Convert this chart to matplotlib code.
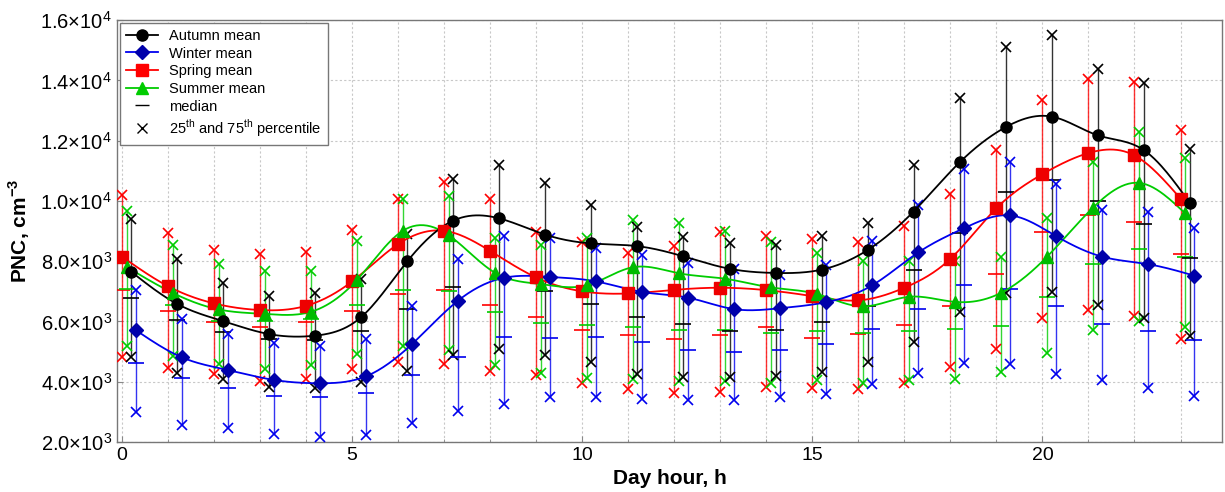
import numpy as np
import matplotlib
matplotlib.use("Agg")
import matplotlib.pyplot as plt
from matplotlib.lines import Line2D
from matplotlib.ticker import FuncFormatter, MultipleLocator

plt.rcParams["font.family"] = ["Liberation Sans", "DejaVu Sans"]
plt.rcParams["mathtext.fontset"] = "custom"
plt.rcParams["mathtext.rm"] = "Liberation Sans"
plt.rcParams["mathtext.bf"] = "Liberation Sans:bold"

# hourly particle number concentration by season
hours = np.arange(24)

autumn_mean = [7650, 6580, 6010, 5580, 5530, 6150, 8000, 9350, 9420, 8880, 8590, 8500,
               8160, 7750, 7610, 7720, 8370, 9650, 11280, 12450, 12800, 12180, 11690, 9940]
autumn_median = [6780, 6050, 5650, 5420, 5390, 5700, 6420, 7140, 7500, 7010, 6590, 6140,
                 5920, 5700, 5730, 5980, 6520, 7710, 8930, 10310, 10710, 9990, 9250, 8100]
autumn_p25 = [4820, 4290, 4100, 3820, 3790, 3990, 4370, 4900, 5090, 4900, 4670, 4250,
              4170, 4170, 4190, 4320, 4660, 5320, 6320, 6950, 6970, 6540, 6120, 5510]
autumn_p75 = [9410, 8080, 7290, 6840, 6930, 7420, 8920, 10730, 11200, 10600, 9850, 9140,
              8820, 8600, 8540, 8830, 9260, 11180, 13410, 15110, 15500, 14380, 13920, 11740]

winter_mean = [5710, 4810, 4390, 4060, 3950, 4180, 5250, 6690, 7450, 7480, 7330, 6980,
               6790, 6410, 6440, 6640, 7200, 8290, 9100, 9520, 8830, 8150, 7900, 7520]
winter_median = [4620, 4120, 3800, 3540, 3510, 3630, 4230, 4820, 5480, 5450, 5500, 5310,
                 5060, 4980, 5060, 5250, 5760, 6400, 7220, 7070, 6500, 5930, 5680, 5380]
winter_p25 = [2990, 2550, 2460, 2250, 2160, 2240, 2630, 3020, 3270, 3490, 3490, 3430,
              3400, 3380, 3490, 3580, 3920, 4280, 4610, 4600, 4270, 4070, 3800, 3520]
winter_p75 = [7030, 6090, 5590, 5290, 5200, 5420, 6530, 8080, 8850, 8760, 8440, 8190,
              7950, 7750, 7550, 7890, 8660, 9870, 11050, 11290, 10560, 9710, 9620, 9090]

spring_mean = [8150, 7170, 6600, 6380, 6520, 7330, 8570, 9010, 8340, 7460, 7000, 6930,
               7050, 7120, 7040, 6840, 6700, 7120, 8080, 9760, 10890, 11590, 11510, 10080]
spring_median = [7050, 6360, 5980, 5810, 5980, 6360, 6920, 7060, 6560, 6140, 5720, 5540,
                 5420, 5560, 5810, 5450, 5600, 5890, 6520, 7570, 8970, 9550, 9300, 8250]
spring_p25 = [4820, 4470, 4250, 4020, 4080, 4410, 4670, 4580, 4350, 4210, 3950, 3770,
              3630, 3650, 3820, 3790, 3750, 3950, 4490, 5100, 6120, 6370, 6170, 5430]
spring_p75 = [10200, 8940, 8380, 8230, 8300, 9040, 10070, 10640, 10070, 8960, 8650, 8270,
              8520, 8960, 8840, 8740, 8640, 9170, 10240, 11680, 13360, 14060, 13950, 12370]

summer_mean = [7810, 6950, 6400, 6250, 6320, 7370, 9010, 8860, 7620, 7240, 7200, 7800,
               7600, 7420, 7130, 6910, 6500, 6820, 6650, 6950, 8150, 9780, 10600, 9590]
summer_median = [7080, 6550, 6000, 6000, 6090, 6550, 7060, 7000, 6310, 5960, 5870, 5810,
                 5730, 5730, 5620, 5670, 5610, 5690, 5740, 5850, 6800, 7910, 8420, 8130]
summer_p25 = [5180, 4850, 4600, 4430, 4560, 4930, 5200, 5060, 4540, 4290, 4130, 4100,
              4010, 4030, 3950, 4050, 3970, 4060, 4080, 4340, 4960, 5730, 6010, 5820]
summer_p75 = [9680, 8550, 7900, 7660, 7670, 8670, 10050, 10160, 8760, 8540, 8760, 9370,
              9270, 9010, 8650, 8280, 8010, 8010, 8000, 8150, 9440, 11290, 12280, 11430]


def natural_spline(x, y, num=600):
    """Natural cubic spline through (x, y), evaluated on a fine grid."""
    x = np.asarray(x, float)
    y = np.asarray(y, float)
    n = len(x)
    h = np.diff(x)
    A = np.zeros((n, n))
    rhs = np.zeros(n)
    A[0, 0] = A[-1, -1] = 1.0
    for i in range(1, n - 1):
        A[i, i - 1] = h[i - 1]
        A[i, i] = 2 * (h[i - 1] + h[i])
        A[i, i + 1] = h[i]
        rhs[i] = 3 * ((y[i + 1] - y[i]) / h[i] - (y[i] - y[i - 1]) / h[i - 1])
    c = np.linalg.solve(A, rhs)
    b = (y[1:] - y[:-1]) / h - h * (2 * c[:-1] + c[1:]) / 3
    d = (c[1:] - c[:-1]) / (3 * h)
    xs = np.linspace(x[0], x[-1], num)
    idx = np.clip(np.searchsorted(x, xs) - 1, 0, n - 2)
    t = xs - x[idx]
    ys = y[idx] + b[idx] * t + c[idx] * t ** 2 + d[idx] * t ** 3
    return xs, ys


# (name, mean, median, p25, p75, colour, marker, marker colour, x shift)
seasons = [
    ("Spring", spring_mean, spring_median, spring_p25, spring_p75, "#ff0000", "s", "#ee0000", 0.0),
    ("Summer", summer_mean, summer_median, summer_p25, summer_p75, "#00cc00", "^", "#00bb00", 0.1),
    ("Autumn", autumn_mean, autumn_median, autumn_p25, autumn_p75, "#000000", "o", "#000000", 0.2),
    ("Winter", winter_mean, winter_median, winter_p25, winter_p75, "#0000ee", "D", "#0000aa", 0.3),
]

fig = plt.figure(figsize=(12.25, 4.92), dpi=100)
ax = fig.add_axes([0.0955, 0.1016, 0.902, 0.8574])

for name, mean, med, p25, p75, col, mk, mcol, dx in seasons:
    x = hours + dx
    ax.vlines(x, p25, p75, colors=col, linewidth=1.0, alpha=0.8, zorder=2)
    ax.plot(x, p25, "x", color=col, markersize=7, markeredgewidth=1.2, zorder=3)
    ax.plot(x, p75, "x", color=col, markersize=7, markeredgewidth=1.2, zorder=3)
    ax.plot(x, med, "_", color=col, markersize=12, markeredgewidth=1.2, zorder=3)

for name, mean, med, p25, p75, col, mk, mcol, dx in seasons:
    x = hours + dx
    xs, ys = natural_spline(x, mean)
    ax.plot(xs, ys, color=col, linewidth=1.3, zorder=4)
    ms = 8 if mk != "D" else 7
    ax.plot(x, mean, mk, color=mcol, markersize=ms, zorder=5)

ax.set_xlim(-0.11, 23.9)
ax.set_ylim(2000, 16000)
ax.xaxis.set_major_locator(MultipleLocator(5))
ax.xaxis.set_minor_locator(MultipleLocator(1))
ax.yaxis.set_major_locator(MultipleLocator(2000))


def sci_label(v, pos):
    if v <= 0:
        return ""
    exp = int(np.floor(np.log10(v)))
    mant = v / 10 ** exp
    return r"$\mathregular{%.1f{\times}10^{%d}}$" % (mant, exp)


ax.yaxis.set_major_formatter(FuncFormatter(sci_label))
ax.tick_params(axis="both", which="major", labelsize=14, direction="in", length=4, color="#888888")
ax.tick_params(axis="y", which="major", labelsize=14.5)
ax.tick_params(axis="x", which="minor", direction="in", length=2, color="#888888")
ax.grid(True, which="both", axis="x", linestyle=(0, (2, 2)), color="#c8c8c8", linewidth=0.8)
ax.grid(True, which="major", axis="y", linestyle=(0, (2, 2)), color="#c8c8c8", linewidth=0.8)
ax.set_axisbelow(True)
for sp in ax.spines.values():
    sp.set_color("#777777")
    sp.set_linewidth(1.0)

ax.set_xlabel("Day hour, h", fontsize=15, fontweight="bold", labelpad=4)
ax.set_ylabel(r"PNC, cm$^{\mathbf{-3}}$", fontsize=15, fontweight="bold", labelpad=6)

handles = [
    Line2D([], [], color="black", marker="o", markersize=8, linewidth=1.3, label="Autumn mean"),
    Line2D([], [], color="#0000ee", marker="D", markerfacecolor="#0000aa", markeredgecolor="#0000aa",
           markersize=7, linewidth=1.3, label="Winter mean"),
    Line2D([], [], color="#ff0000", marker="s", markersize=8, linewidth=1.3, label="Spring mean"),
    Line2D([], [], color="#00cc00", marker="^", markersize=8, linewidth=1.3, label="Summer mean"),
    Line2D([], [], color="black", marker="_", markersize=10, linestyle="none", label="median"),
    Line2D([], [], color="black", marker="x", markersize=7, linestyle="none",
           label=r"25$^{\mathregular{th}}$ and 75$^{\mathregular{th}}$ percentile"),
]
leg = ax.legend(handles=handles, loc="upper left", fontsize=10.5, frameon=True, fancybox=False,
                edgecolor="#777777", framealpha=1.0, borderpad=0.4, labelspacing=0.25,
                handlelength=2.2, borderaxespad=0.2)
leg.get_frame().set_linewidth(1.0)

fig.savefig("out.png", dpi=100)
